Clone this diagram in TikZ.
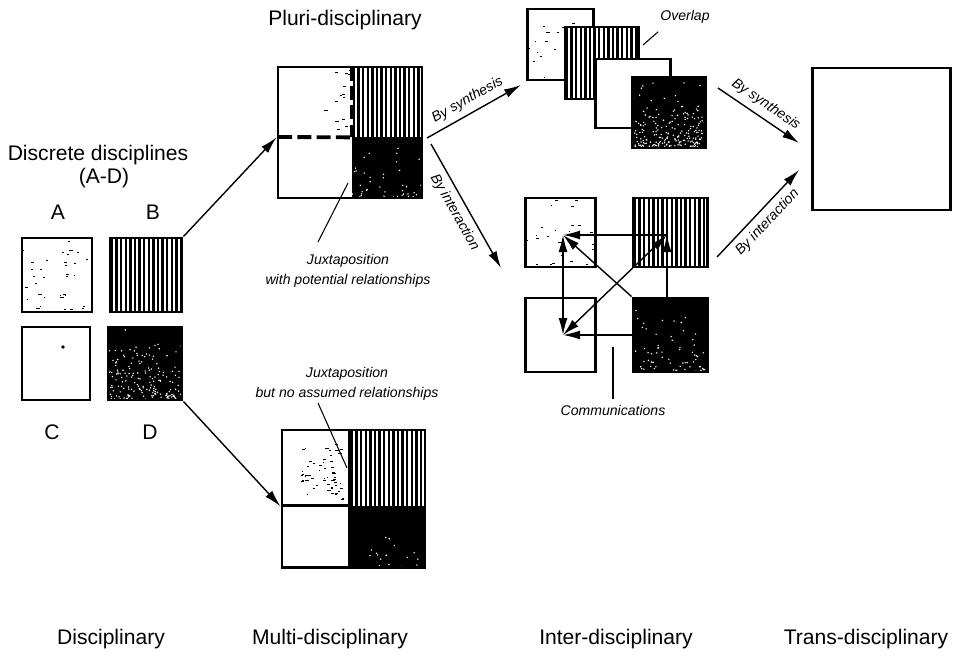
\documentclass[tikz,border=0pt]{standalone}
\usepackage{fontspec}
\setmainfont{Liberation Sans}
\usetikzlibrary{calc, positioning, arrows.meta}

\newcommand\pxu{0.02cm}

\tikzset{
  sz/.style 2 args={minimum width=#1*\pxu, minimum height=#2*\pxu, inner sep=0pt},
  box/.style={draw, line width=1.7pt},
  lbl/.style={font=\fontsize{12}{14}\selectfont},
  note/.style={font=\fontsize{8}{11.5}\selectfont\itshape, align=center},
  arr/.style={line width=0.8pt, -{Latex[length=3.4mm,width=1.8mm]}},
  biarr/.style={line width=0.8pt, {Latex[length=3.4mm,width=1.8mm]}-{Latex[length=3.4mm,width=1.8mm]}},
  ptr/.style={line width=0.6pt},
  sep/.style={line width=2.2pt, dash pattern=on 8pt off 3pt},
  scatter/.style 2 args={fill=white, path picture={
    \pgfmathsetseed{#1}
    \foreach \k in {1,...,#2}{
      \pgfmathsetmacro\ru{rnd}\pgfmathsetmacro\rv{rnd}\pgfmathsetmacro\rw{1+3*rnd}
      \draw[line width=0.5pt]
        ($($(path picture bounding box.south west)!\ru!(path picture bounding box.south east)$)!\rv!($(path picture bounding box.north west)!\ru!(path picture bounding box.north east)$)$) -- ++(\rw,0);
    }}},
  stripes/.style={fill=white, path picture={
    \foreach \i in {0,...,18}
      \draw[line width=1.3pt] ($(path picture bounding box.north west)+(\i*4.6+2,0)$) -- ++(0,200);
    }},
  dark/.style 2 args={fill=black, path picture={
    \pgfmathsetseed{#1}
    \foreach \k in {1,...,#2}{
      \pgfmathsetmacro\ru{rnd}\pgfmathsetmacro\rv{rnd*rnd}
      \fill[white]
        ($($(path picture bounding box.south west)!\ru!(path picture bounding box.south east)$)!\rv!($(path picture bounding box.north west)!\ru!(path picture bounding box.north east)$)$) circle[radius=0.45pt];
    }}}
}

\begin{document}
\begin{tikzpicture}[x=0.02cm, y=-0.02cm]
    \useasboundingbox (0,0) rectangle (963,659);

    % Discrete disciplines
    \node[lbl] (ttl) at (98,155) {Discrete disciplines};
    \node[lbl] (rng) at (104,178) {(A-D)};
    \node[lbl] (labA) at (58,212) {A};
    \node[lbl] (labB) at (153,212) {B};
    \node[box, sz={70}{74}, scatter={11}{34}] (dA) at (57,275) {};
    \node[box, sz={72}{74}, stripes] (dB) at (146,275) {};
    \node[box, sz={68}{73}] (dC) at (56,363.5) {};
    \fill (63,347) circle[radius=1pt];
    \node[box, sz={74}{73}, dark={5}{180}] (dD) at (145,363.5) {};
    \node[lbl] (labC) at (52,432) {C};
    \node[lbl] (labD) at (150,432) {D};

    % Pluri-disciplinary
    \node[lbl] (pluri) at (345,20) {Pluri-disciplinary};
    \node[sz={28}{62}, scatter={3}{14}] (Pa) at (336,100) {};
    \node[sz={70}{70}, stripes] (Pb) at (387,102) {};
    \node[sz={70}{61}, dark={7}{40}] (Pd) at (387,167.5) {};
    \draw[sep] (278,137) -- (Pb.south west);
    \draw[sep] (Pb.north west) -- (Pb.south west);
    \node[box, sz={144}{131}] (P) at (350,132.5) {};
    \node[note] (juxP) at (348,271) {Juxtaposition\\with potential relationships};
    \coordinate (juxPfoot) at (318,242);
    \coordinate (juxPtip) at (348,183);
    \draw[ptr] (juxPfoot) -- (juxPtip);

    % Multi-disciplinary
    \node[sz={44}{56}, scatter={21}{60}] (Ma) at (322,472) {};
    \node[sz={75}{76}, stripes] (Mb) at (387.5,468) {};
    \node[sz={75}{61}, dark={9}{18}] (Md) at (387.5,536.5) {};
    \node[box, sz={143}{137}] (M) at (353.5,498.5) {};
    \draw[line width=1.7pt] (M.west |- Md.north) -- (Md.north west) (Mb.north west) -- (Md.south west);
    \node[note] (juxM) at (347,384) {Juxtaposition\\but no assumed relationships};
    \coordinate (juxMfoot) at (318,403);
    \coordinate (juxMtip) at (347,468);
    \draw[ptr] (juxMfoot) -- (juxMtip);

    % Inter-disciplinary, by synthesis
    \node[box, sz={66}{71}, scatter={31}{25}] (s1) at (560,44.5) {};
    \node[box, sz={73}{72}, stripes] (s2) at (601.5,63) {};
    \node[box, fill=white, sz={75}{69}] (s3) at (632.5,93.5) {};
    \node[box, sz={73}{71}, dark={13}{220}] (s4) at (668.5,112.5) {};
    \node[note] (ovl) at (685,17) {Overlap};
    \coordinate (ovltip) at (643,45);
    \draw[ptr] (ovl.south west) ++(4,2) -- (ovltip);

    % Inter-disciplinary, by interaction
    \node[box, sz={70}{69}, scatter={41}{25}] (iA) at (560,232.5) {};
    \node[box, sz={74}{69}, stripes] (iB) at (670,232.5) {};
    \node[box, sz={70}{74}] (iC) at (560,335) {};
    \node[box, sz={74}{74}, dark={17}{70}] (iD) at (670,335) {};
    \coordinate (hubA) at (563,235);
    \coordinate (hubB) at (667,235);
    \coordinate (hubC) at (563,335);
    \draw[arr] (hubB) -- (hubA);
    \draw[arr] (iD.north west) -- (hubA);
    \draw[biarr] (hubA) -- (hubC);
    \draw[biarr] (hubC) -- (hubB);
    \draw[arr] (iD.north -| hubB) -- (hubB);
    \draw[arr] (iD.west |- hubC) -- (hubC);
    \node[note] (comm) at (613,410) {Communications};
    \coordinate (commtip) at (613,347);
    \draw[ptr] (comm.north) -- (commtip);

    % Trans-disciplinary
    \node[box, sz={138}{142}] (T) at (881,139) {};

    % arrows between stages
    \draw[arr] (dB.north east) -- (P.west |- Pb.south);
    \draw[arr] (dD.south east) -- (M.west |- Mb.south);
    \coordinate (forkS) at (427,138);
    \coordinate (forkI) at (431,144);
    \coordinate (synTip) at (521,85);
    \coordinate (intTip) at (501,268);
    \draw[arr] (forkS) -- (synTip) node[midway, above, sloped, note] {By synthesis};
    \draw[arr] (forkI) -- (intTip) node[midway, below, sloped, note] {By interaction};
    \coordinate (synFoot) at (718,88);
    \coordinate (intFoot) at (717,257);
    \coordinate (tSyn) at (799,143);
    \coordinate (tInt) at (799,170);
    \draw[arr] (synFoot) -- (tSyn) node[midway, above, sloped, note] {By synthesis};
    \draw[arr] (intFoot) -- (tInt) node[midway, below, sloped, note] {By interaction};

    % stage names
    \node[lbl] (stD) at (111,639) {Disciplinary};
    \node[lbl] (stM) at (330,639) {Multi-disciplinary};
    \node[lbl] (stI) at (616,639) {Inter-disciplinary};
    \node[lbl] (stT) at (866,639) {Trans-disciplinary};
\end{tikzpicture}
\end{document}
